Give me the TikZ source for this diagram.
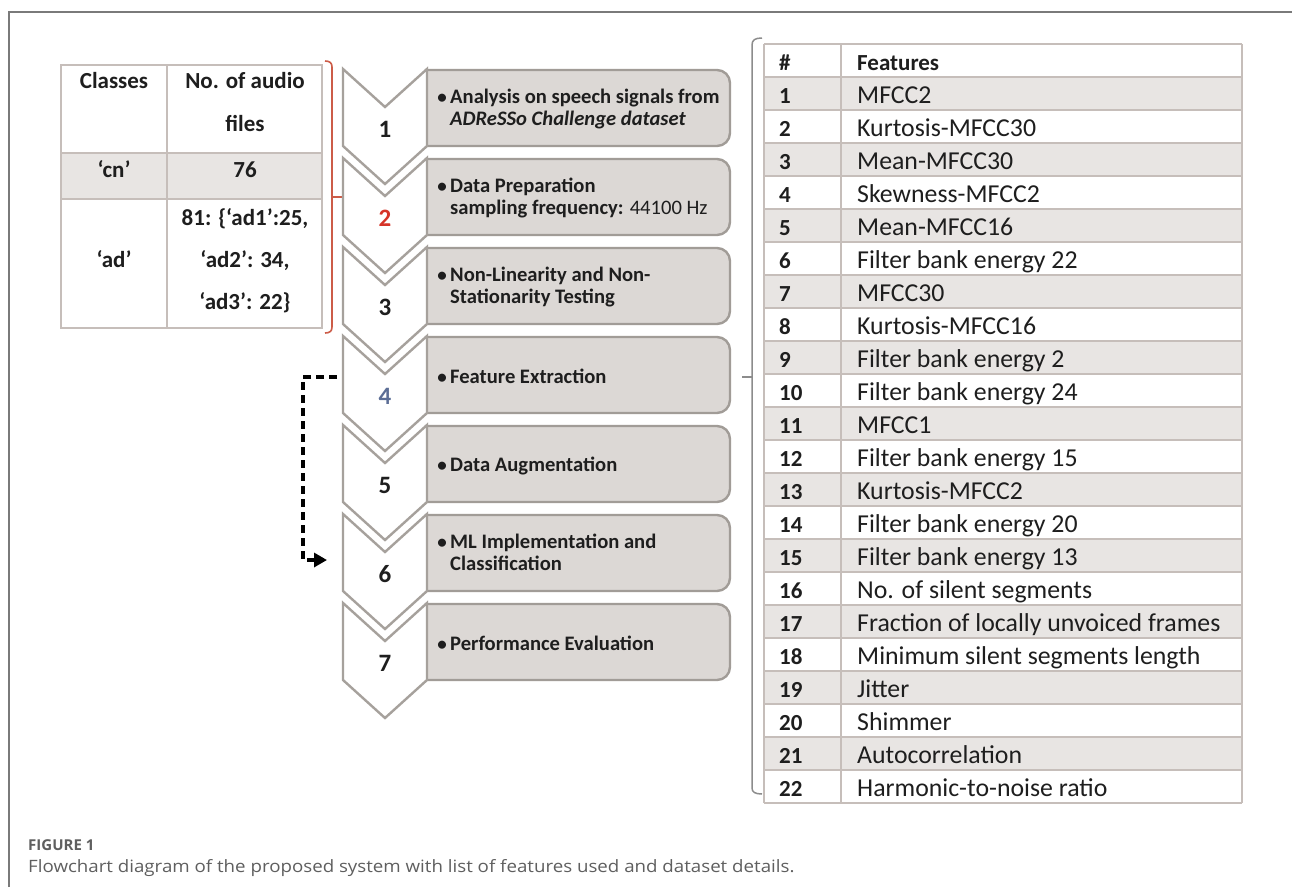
\documentclass[tikz,border=0pt]{standalone}
\usepackage{fontspec}
\setmainfont{Carlito}
\newfontfamily\capfont[FakeStretch=1.1]{Open Sans}
\newfontfamily\figfont{Open Sans}
\usetikzlibrary{arrows.meta}
\definecolor{txt}{RGB}{30,30,30}
\definecolor{chevline}{RGB}{166,161,156}
\definecolor{boxfill}{RGB}{220,216,213}
\definecolor{boxline}{RGB}{161,156,151}
\definecolor{grid}{RGB}{198,190,186}
\definecolor{rowgray}{RGB}{232,229,227}
\definecolor{numred}{RGB}{214,52,40}
\definecolor{numblue}{RGB}{92,110,150}
\definecolor{bracered}{RGB}{204,92,72}
\definecolor{bracegray}{RGB}{140,140,140}
\definecolor{frameline}{RGB}{122,122,122}
\definecolor{captxt}{RGB}{95,95,95}
\tikzset{
  chevron/.style={fill=white,draw=chevline,line width=2.4pt,line join=miter},
  stepbox/.style={fill=boxfill,draw=boxline,line width=2.4pt},
  boxtxt/.style={anchor=base west,inner sep=0pt,text=txt,font=\bfseries\fontsize{20.6}{22}\selectfont},
  bul/.style={anchor=base,inner sep=0pt,text=txt,font=\bfseries\fontsize{19}{22}\selectfont},
  chevnum/.style={anchor=base,inner sep=0pt,font=\bfseries\fontsize{25}{28}\selectfont},
  ltxt/.style={anchor=base,inner sep=0pt,text=txt,font=\bfseries\fontsize{23}{26}\selectfont},
  rnum/.style={anchor=base west,inner sep=0pt,text=txt,font=\bfseries\fontsize{23}{26}\selectfont},
  rtxt/.style={anchor=base west,inner sep=0pt,text=txt,font=\fontsize{25.8}{28}\selectfont},
  gridline/.style={draw=grid,line width=1.8pt},
  dasharrow/.style={draw=black,line width=3.2pt,dash pattern=on 8pt off 5pt,-{Triangle[length=13pt,width=14pt]}},
  captext/.style={anchor=base west,inner sep=0pt,text=captxt},
}
\begin{document}
\begin{tikzpicture}[x=1pt,y=-1pt]
\useasboundingbox (0,0) rectangle (1292,887);
\fill[white] (0,0) rectangle (1292,887);
% frame
\draw[frameline,line width=1.2pt] (9,887) -- (9,12) -- (1292,12);

% ---------- left table ----------
\fill[rowgray] (61,153) rectangle (322,199);
\draw[gridline] (61,65) rectangle (322,328);
\draw[gridline] (167,65) -- (167,328);
\draw[gridline] (61,153) -- (322,153);
\draw[gridline] (61,199) -- (322,199);
\node[ltxt] (lh1) at (114,88) {Classes};
\node[ltxt] (lh2a) at (245,88) {No. of audio};
\node[ltxt] (lh2b) at (245,131) {files};
\node[ltxt] (lcn) at (114,177) {‘cn’};
\node[ltxt] (lcnv) at (245,177) {76};
\node[ltxt] (lad) at (114,267) {‘ad’};
\node[ltxt] (lada) at (245,225) {81: \{‘ad1’:25,};
\node[ltxt] (ladb) at (245,267) {‘ad2’: 34,};
\node[ltxt] (ladc) at (245,309) {‘ad3’: 22\}};

% red brace
\coordinate (rbtip) at (342,197);
\draw[bracered,line width=1.6pt]
  (325,61) .. controls (330,61) and (332,63) .. (332,67) -- (332,327)
  .. controls (332,331) and (330,333) .. (325,333);
\draw[bracered,line width=1.6pt] (332,197) -- (rbtip);

% ---------- steps ----------
\foreach \k in {0,...,6}{
  \pgfmathsetmacro{\T}{69+89*\k}
  \draw[stepbox] (426,{\T+1}) -- (717,{\T+1})
     .. controls (724.2,{\T+1}) and (730,{\T+6.8}) .. (730,{\T+14})
     -- (730,{\T+64})
     .. controls (730,{\T+71.2}) and (724.2,{\T+77}) .. (717,{\T+77})
     -- (426,{\T+77}) -- cycle;
  \draw[chevron] (343,\T) -- (385,{\T+38}) -- (427,\T) -- (427,{\T+77})
     -- (385,{\T+115}) -- (343,{\T+77}) -- cycle;
}
% numbers
\node[chevnum,text=txt]     (n1) at (385,{69+68}) {1};
\node[chevnum,text=numred]  (n2) at (385,{158+68}) {2};
\node[chevnum,text=txt]     (n3) at (385,{247+68}) {3};
\node[chevnum,text=numblue] (n4) at (385,{336+68}) {4};
\node[chevnum,text=txt]     (n5) at (385,{425+68}) {5};
\node[chevnum,text=txt]     (n6) at (385,{514+68}) {6};
\node[chevnum,text=txt]     (n7) at (385,{603+68}) {7};

% box texts
\node[bul] (u1) at (442,103) {•};
\node[boxtxt] (t1a) at (450,103) {Analysis on speech signals from};
\node[boxtxt] (t1b) at (450,125) {\itshape ADReSSo Challenge dataset};
\node[bul] (u2) at (442,192) {•};
\node[boxtxt] (t2a) at (450,192) {Data Preparation};
\node[boxtxt] (t2b) at (450,214) {sampling frequency: \mdseries 44100 Hz};
\node[bul] (u3) at (442,281) {•};
\node[boxtxt] (t3a) at (450,281) {Non-Linearity and Non-};
\node[boxtxt] (t3b) at (450,303) {Stationarity Testing};
\node[bul] (u4) at (442,383) {•};
\node[boxtxt] (t4) at (450,383) {Feature Extraction};
\node[bul] (u5) at (442,471) {•};
\node[boxtxt] (t5) at (450,471) {Data Augmentation};
\node[bul] (u6) at (442,548) {•};
\node[boxtxt] (t6a) at (450,548) {ML Implementation and};
\node[boxtxt] (t6b) at (450,570) {Classification};
\node[bul] (u7) at (442,650) {•};
\node[boxtxt] (t7) at (450,650) {Performance Evaluation};

% dashed arrow
\coordinate (d4) at (337,377);
\coordinate (d6) at (327,560);
\draw[dasharrow] (d4) -- (303,377) |- (d6);

% ---------- right brace ----------
\coordinate (gbtip) at (742,377);
\draw[bracegray,line width=1.5pt]
  (762,38) .. controls (755,38) and (752,40) .. (752,45) -- (752,788)
  .. controls (752,792) and (755,794) .. (762,794);
\draw[bracegray,line width=1.5pt] (752,377) -- (gbtip);

% ---------- right table ----------
\foreach \r in {1,3,...,21}{
  \fill[rowgray] (764,{44+33*\r}) rectangle (1242,{77+33*\r});
}
\foreach \r in {0,...,23}{
  \draw[gridline] (764,{44+33*\r}) -- (1242,{44+33*\r});
}
\draw[gridline] (764,44) -- (764,803);
\draw[gridline] (841,44) -- (841,803);
\draw[gridline] (1242,44) -- (1242,803);
\node[rnum] (hnum) at (779,70) {\#};
\node[rnum] (htxt) at (857,70) {Features};
\foreach \i/\t in {1/MFCC2,2/Kurtosis-MFCC30,3/Mean-MFCC30,4/Skewness-MFCC2,5/Mean-MFCC16,
  6/Filter bank energy 22,7/MFCC30,8/Kurtosis-MFCC16,9/Filter bank energy 2,10/Filter bank energy 24,
  11/MFCC1,12/Filter bank energy 15,13/Kurtosis-MFCC2,14/Filter bank energy 20,15/Filter bank energy 13,
  16/No. of silent segments,17/Fraction of locally unvoiced frames,18/Minimum silent segments length,
  19/Jitter,20/Shimmer,21/Autocorrelation,22/Harmonic-to-noise ratio}{
  \node[rnum] (rn\i) at (779,{70+33*\i}) {\i};
  \node[rtxt] (rt\i) at (857,{70+33*\i}) {\t};
}

% ---------- caption ----------
\node[captext,font=\figfont\bfseries\fontsize{15}{17}\selectfont] (figlab) at (28,850) {FIGURE 1};
\node[captext,font=\capfont\fontsize{17}{20}\selectfont] (figcap) at (28,872) {Flowchart diagram of the proposed system with list of features used and dataset details.};
\end{tikzpicture}
\end{document}
